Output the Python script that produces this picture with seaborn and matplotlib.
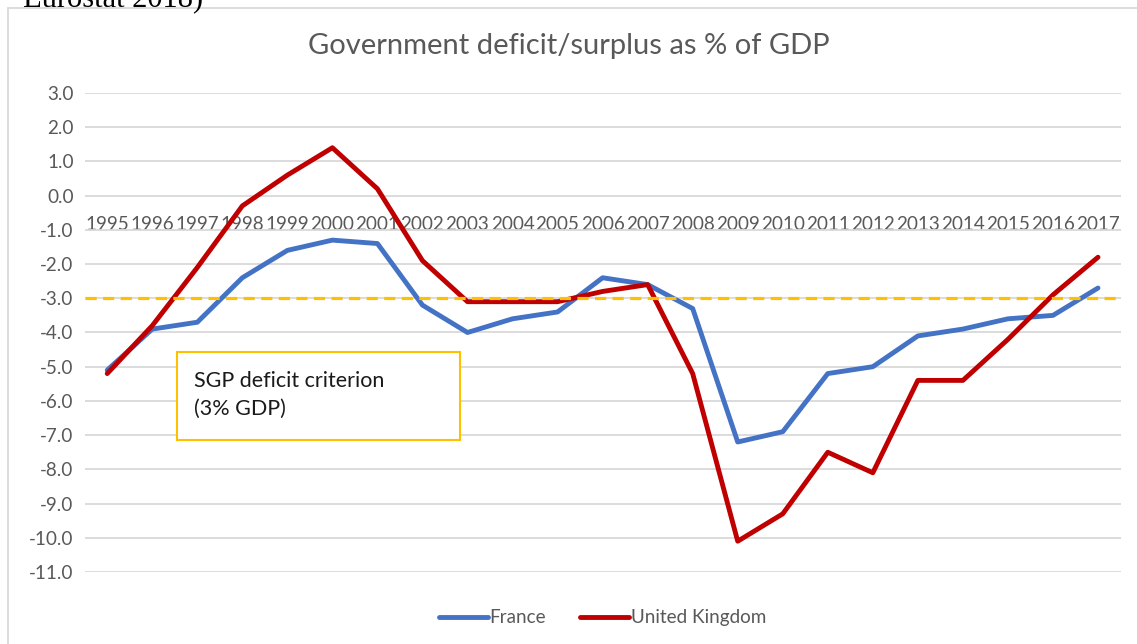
import matplotlib
matplotlib.use("Agg")
import matplotlib.pyplot as plt
import seaborn as sns
import pandas as pd
from matplotlib.patches import Rectangle

# Data
years = [str(y) for y in range(1995, 2018)]
france = [-5.1, -3.9, -3.7, -2.4, -1.6, -1.3, -1.4, -3.2, -4.0, -3.6, -3.4, -2.4,
          -2.6, -3.3, -7.2, -6.9, -5.2, -5.0, -4.1, -3.9, -3.6, -3.5, -2.7]
uk = [-5.2, -3.8, -2.1, -0.3, 0.6, 1.4, 0.2, -1.9, -3.1, -3.1, -3.1, -2.8,
      -2.6, -5.2, -10.1, -9.3, -7.5, -8.1, -5.4, -5.4, -4.2, -2.9, -1.8]
countries = ["France", "United Kingdom"]
colors = ["#4472C4", "#C00000"]
sgp_limit = -3.0
yticks = [3.0 - i for i in range(15)]

df = pd.DataFrame({"year": years * 2,
                   "value": france + uk,
                   "country": ["France"] * len(years) + ["United Kingdom"] * len(years)})

sns.set_style("white")
plt.rcParams["font.family"] = ["Lato", "DejaVu Sans"]

fig = plt.figure(figsize=(11.37, 6.44), dpi=100)
ax = fig.add_axes([0.0745, 0.1118, 0.911, 0.7438])

sns.lineplot(data=df, x="year", y="value", hue="country", palette=colors,
             hue_order=countries, linewidth=3.5, ax=ax, sort=False, legend=True)

# SGP 3% line
ax.axhline(sgp_limit, color="#FFC000", linestyle=(0, (3.5, 2)), linewidth=2.3, zorder=3)

ax.set_xlim(-0.5, len(years) - 0.5)
ax.set_ylim(-11, 3)
ax.set_yticks(yticks)
ax.set_yticklabels([f"{v:.1f}" for v in yticks])
ax.yaxis.grid(True, color="#d9d9d9", linewidth=1.3)
ax.set_axisbelow(True)
for s in ax.spines.values():
    s.set_visible(False)
ax.spines["bottom"].set_position(("data", 0))
ax.tick_params(axis="x", length=0, pad=15, labelsize=13.6, colors="#595959")
ax.tick_params(axis="y", length=0, pad=8, labelsize=13.6, colors="#595959")
ax.set_xlabel("")
ax.set_ylabel("")

fig.text(0.5, 0.928, "Government deficit/surplus as % of GDP", ha="center", va="center",
         fontsize=21, color="#595959")

# annotation box
ax.add_patch(Rectangle((0.089, 0.276), 0.273, 0.184, transform=ax.transAxes,
                       facecolor="white", edgecolor="#FFC000", linewidth=1.5, zorder=4))
ax.text(0.1055, 0.37, "SGP deficit criterion\n(3% GDP)", transform=ax.transAxes,
        ha="left", va="center", fontsize=15.5, color="#1a1a1a", linespacing=1.45, zorder=5)

leg = ax.legend(loc="upper center", bbox_to_anchor=(0.5, -0.042), ncol=2, frameon=False,
                fontsize=13.6, handlelength=2.6, handletextpad=0.1, columnspacing=1.8)
for t in leg.get_texts():
    t.set_color("#595959")
for h in leg.get_lines():
    h.set_linewidth(3.5)

# outer chart frame and cropped caption above it
fig.patches.append(Rectangle((8 / 1137, -0.1), 1.2, 1.1 - 8 / 644, transform=fig.transFigure,
                             facecolor="none", edgecolor="#d9d9d9", linewidth=1.3))
fig.text(0.02, 1.002, "Eurostat 2018)", ha="left", va="center", fontsize=22,
         family=["Liberation Serif", "DejaVu Serif"], color="black")

fig.savefig("out.png", dpi=100)
